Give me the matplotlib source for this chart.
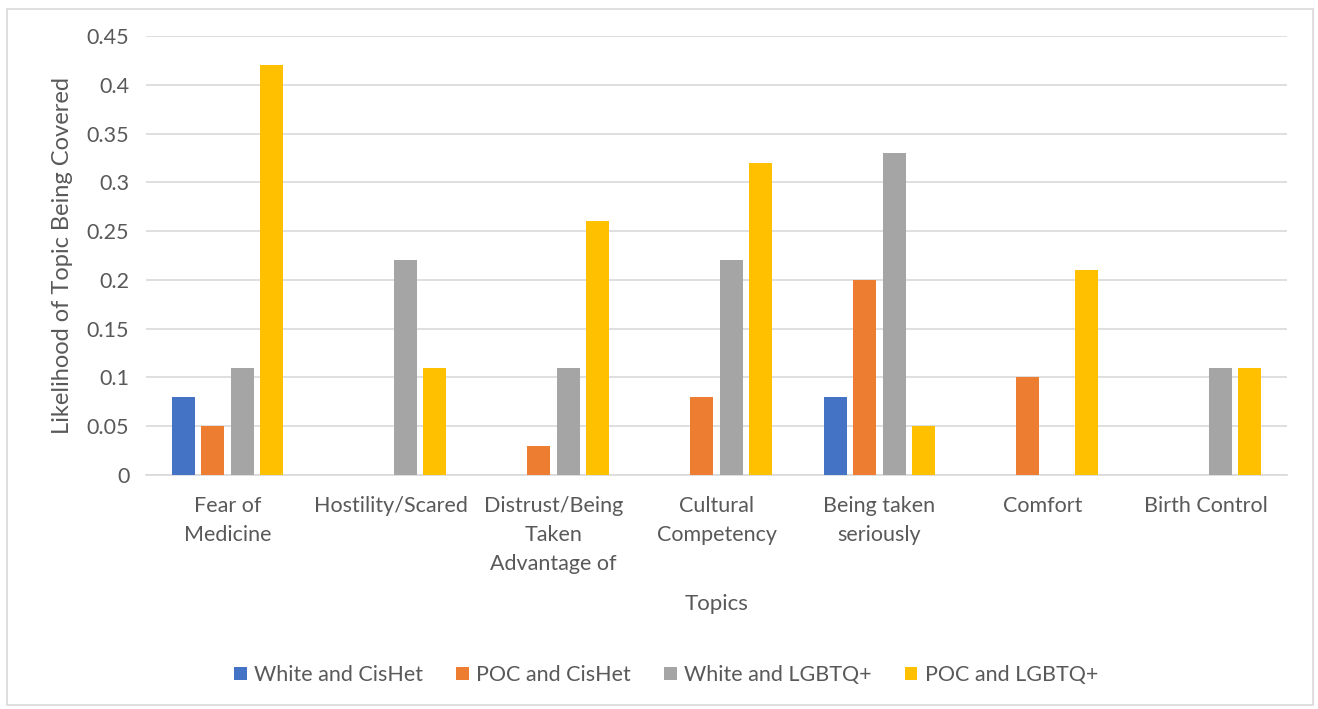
import matplotlib
matplotlib.use("Agg")
import matplotlib.pyplot as plt
import numpy as np
from matplotlib.patches import Rectangle

topics = ["Fear of\nMedicine", "Hostility/Scared", "Distrust/Being\nTaken\nAdvantage of",
          "Cultural\nCompetency", "Being taken\nseriously", "Comfort", "Birth Control"]
series_names = ["White and CisHet", "POC and CisHet", "White and LGBTQ+", "POC and LGBTQ+"]
white_cishet = [0.08, 0, 0, 0, 0.08, 0, 0]
poc_cishet = [0.05, 0, 0.03, 0.08, 0.20, 0.10, 0]
white_lgbtq = [0.11, 0.22, 0.11, 0.22, 0.33, 0, 0.11]
poc_lgbtq = [0.42, 0.11, 0.26, 0.32, 0.05, 0.21, 0.11]
y_ticks = [0, 0.05, 0.1, 0.15, 0.2, 0.25, 0.3, 0.35, 0.4, 0.45]
y_tick_labels = ["0", "0.05", "0.1", "0.15", "0.2", "0.25", "0.3", "0.35", "0.4", "0.45"]

colors = ["#4472C4", "#ED7D31", "#A5A5A5", "#FFC000"]
text_color = "#595959"
font = "Lato"
fs = 15.5

W, H = 1318, 709
fig = plt.figure(figsize=(W / 100, H / 100), dpi=100)
ax = fig.add_axes([146 / W, 1 - 475 / H, (1287 - 146) / W, (475 - 36) / H])

# outer chart frame
fig.patches.append(Rectangle((7 / W, 4 / H), (1313 - 7) / W, (703 - 7) / H,
                             transform=fig.transFigure, fill=False,
                             edgecolor="#D9D9D9", linewidth=1.2))

data = [white_cishet, poc_cishet, white_lgbtq, poc_lgbtq]
x = np.arange(len(topics))
pitch = 0.181
width = 0.141
for i, (vals, c, name) in enumerate(zip(data, colors, series_names)):
    ax.bar(x + (i - 1.5) * pitch, vals, width=width, color=c, label=name, zorder=3)

ax.set_xlim(-0.5, len(topics) - 0.5)
ax.set_ylim(0, 0.45)
ax.set_yticks(y_ticks)
ax.set_yticklabels(y_tick_labels, fontsize=fs, color=text_color, family=font)
ax.set_xticks(x)
ax.set_xticklabels(topics, fontsize=fs, color=text_color, family=font)
for t in ax.get_xticklabels():
    t.set_linespacing(1.58)
ax.grid(axis="y", color="#D9D9D9", linewidth=1.2, zorder=0)
for s in ["top", "right", "left"]:
    ax.spines[s].set_visible(False)
ax.spines["bottom"].set_color("#D9D9D9")
ax.spines["bottom"].set_linewidth(1.2)
ax.tick_params(axis="both", length=0)
ax.tick_params(axis="x", pad=15)
ax.tick_params(axis="y", pad=12)

ax.set_xlabel("Topics", fontsize=16, color=text_color, family=font, labelpad=14)
ax.set_ylabel("Likelihood of Topic Being Covered", fontsize=17, color=text_color,
              family=font, labelpad=10)

leg = fig.legend(loc="center", bbox_to_anchor=(666 / W, 1 - 675 / H), ncol=4,
                 frameon=False, handlelength=0.6, handleheight=0.6,
                 handletextpad=0.35, columnspacing=1.52, prop={"family": font, "size": fs})
for t in leg.get_texts():
    t.set_color(text_color)

fig.savefig("out.png", dpi=100)
